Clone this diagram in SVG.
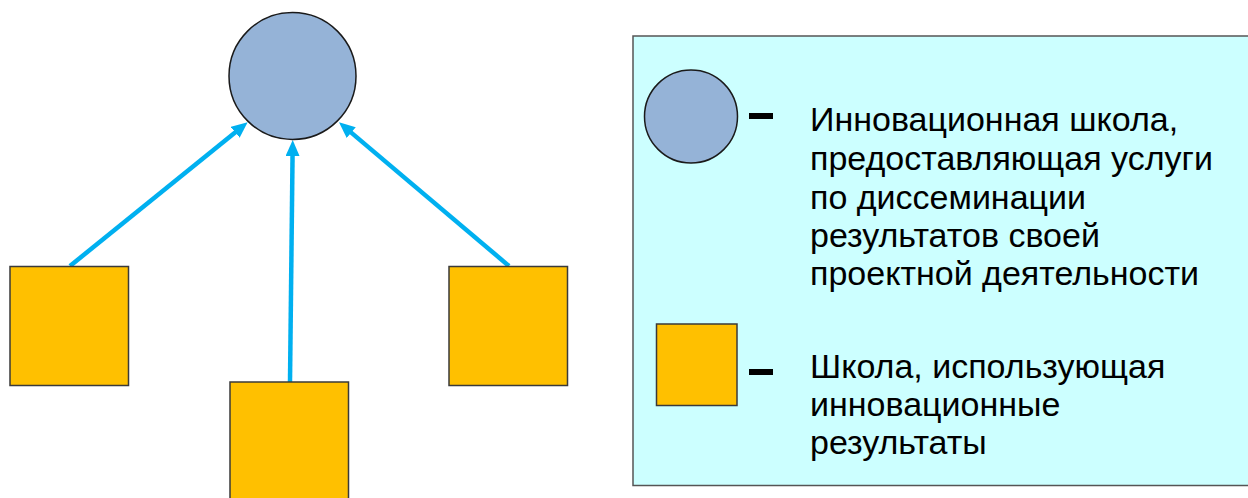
<svg xmlns="http://www.w3.org/2000/svg" width="1248" height="498" viewBox="0 0 1248 498">
<style>
.inno{fill:#95b3d7;stroke:#1a1a1a;stroke-width:1.5}
.user{fill:#ffc000;stroke:#3a3a3a;stroke-width:1.5}
.conn{stroke:#00b0f0;stroke-width:4.5;fill:none}
.dash{fill:#000}
.lbl{font-family:"Liberation Sans",Arial,sans-serif;font-size:34px;fill:#000}
</style>
<defs>
<marker id="ah" markerUnits="userSpaceOnUse" markerWidth="16" markerHeight="14" refX="5" refY="7" orient="auto">
<path d="M0,0 L16,7 L0,14 z" fill="#00b0f0"/>
</marker>
</defs>
<rect x="0" y="0" width="1248" height="498" fill="#ffffff"/>
<g id="legend">
<rect x="633" y="36" width="620" height="449.5" fill="#ccffff" stroke="#555555" stroke-width="1.5"/>
<circle cx="691" cy="116.5" r="46.5" class="inno"/>
<rect x="749" y="113" width="24" height="6" class="dash"/>
<text class="lbl"><tspan x="810" y="131">Инновационная школа,</tspan><tspan x="810" y="170">предоставляющая услуги</tspan><tspan x="810" y="208.5">по диссеминации</tspan><tspan x="810" y="247">результатов своей</tspan><tspan x="810" y="285">проектной деятельности</tspan></text>
<rect x="656.5" y="324" width="80.5" height="81.5" class="user"/>
<rect x="749" y="369" width="24" height="6" class="dash"/>
<text class="lbl"><tspan x="810" y="378">Школа, использующая</tspan><tspan x="810" y="416">инновационные</tspan><tspan x="810" y="454">результаты</tspan></text>
</g>
<g id="connectors">
<line x1="70" y1="266" x2="239.1" y2="129.2" class="conn" marker-end="url(#ah)"/>
<line x1="290" y1="382" x2="292.6" y2="151" class="conn" marker-end="url(#ah)"/>
<line x1="509" y1="266" x2="347.4" y2="129.4" class="conn" marker-end="url(#ah)"/>
</g>
<g id="hub">
<circle cx="292.5" cy="76" r="63.5" class="inno"/>
</g>
<g id="school-left">
<rect x="10" y="266.5" width="118.5" height="119" class="user"/>
</g>
<g id="school-bottom">
<rect x="230" y="382" width="118.5" height="120" class="user"/>
</g>
<g id="school-right">
<rect x="449" y="266.5" width="118.5" height="119" class="user"/>
</g>
</svg>
